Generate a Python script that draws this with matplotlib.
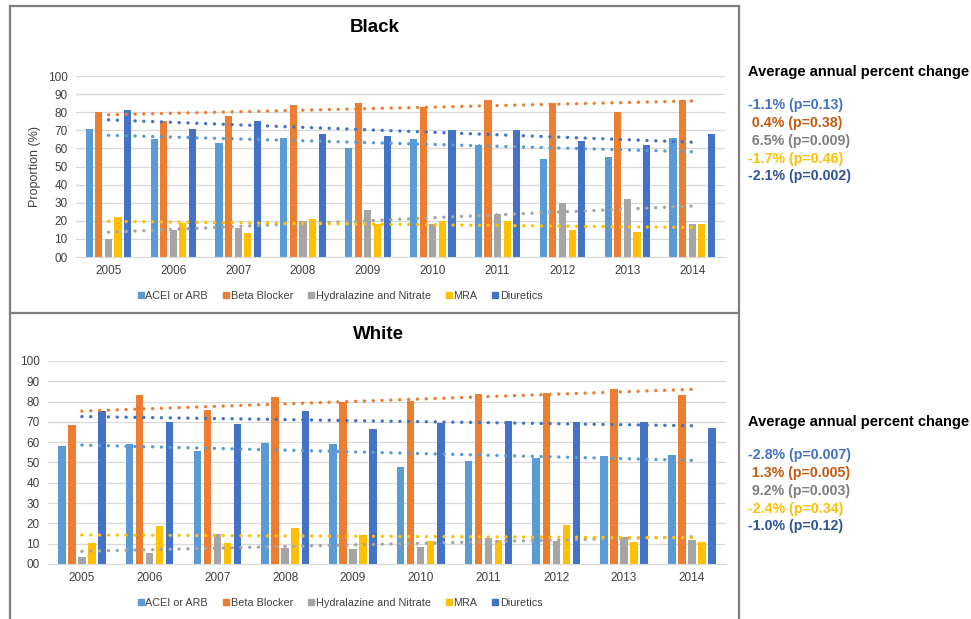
import numpy as np
import matplotlib
matplotlib.use('Agg')
import matplotlib.pyplot as plt
from matplotlib.lines import Line2D

plt.rcParams['font.family'] = ['Liberation Sans', 'DejaVu Sans']

years = ['2005', '2006', '2007', '2008', '2009', '2010', '2011', '2012', '2013', '2014']
drugs = ['ACEI or ARB', 'Beta Blocker', 'Hydralazine and Nitrate', 'MRA', 'Diuretics']
colors = ['#5B9BD5', '#ED7D31', '#A5A5A5', '#FFC000', '#4472C4']

# proportion (%) of patients on each drug class, by year
black_acei = [71, 65, 63, 66, 60, 65, 62, 54, 55, 66]
black_beta = [80, 75, 78, 84, 85, 83, 87, 85, 80, 87]
black_hydra = [10, 15, 16, 20, 26, 18, 24, 30, 32, 18]
black_mra = [22, 19, 13, 21, 18, 20, 20, 15, 14, 18]
black_diur = [81, 71, 75, 68, 67, 70, 70, 64, 62, 68]

white_acei = [58, 59, 55.5, 59.5, 59, 48, 50.5, 52, 53, 53.5]
white_beta = [68.5, 83, 76, 82, 80, 80.5, 83.5, 84, 86, 83]
white_hydra = [3.5, 5.5, 15, 8, 7.5, 8.5, 13, 11.5, 13.5, 12]
white_mra = [10.5, 18.5, 10.5, 17.5, 14.5, 11.5, 12, 19, 11, 11]
white_diur = [75.5, 70, 69, 75.5, 66.5, 69.5, 70.5, 70, 70, 67]

black_apc = ['-1.1% (p=0.13)', ' 0.4% (p=0.38)', ' 6.5% (p=0.009)', '-1.7% (p=0.46)', '-2.1% (p=0.002)']
white_apc = ['-2.8% (p=0.007)', ' 1.3% (p=0.005)', ' 9.2% (p=0.003)', '-2.4% (p=0.34)', '-1.0% (p=0.12)']
apc_colors = ['#4472C4', '#C55A11', '#7F7F7F', '#FFC000', '#2F5597']

fig = plt.figure(figsize=(9.71, 6.19), dpi=100)


def draw_panel(ax, series, ylabel=None):
    x = np.arange(len(years))
    pitch = 0.148
    for i, (vals, c) in enumerate(zip(series, colors)):
        ax.bar(x + (i - 2) * pitch, vals, width=0.11, color=c, zorder=2)
    # linear trend lines for each drug class
    for i, (vals, c) in enumerate(zip(series, colors)):
        k, b = np.polyfit(x, vals, 1)
        ax.plot(x, k * x + b, color=c, lw=2.4, linestyle=(0, (0.05, 2.6)),
                dash_capstyle='round', zorder=3)
    ax.set_xlim(-0.5, len(years) - 0.5)
    ax.set_ylim(0, 100)
    ax.set_yticks(range(0, 101, 10))
    ax.set_yticklabels(['%02d' % v for v in range(0, 101, 10)])
    ax.set_xticks(x)
    ax.set_xticklabels(years)
    ax.grid(axis='y', color='#D9D9D9', lw=0.9, zorder=0)
    ax.set_axisbelow(True)
    for s in ['top', 'right', 'left']:
        ax.spines[s].set_visible(False)
    ax.spines['bottom'].set_color('#D9D9D9')
    ax.tick_params(length=0, labelsize=8.5, colors='#404040', pad=6)
    if ylabel:
        ax.set_ylabel(ylabel, fontsize=9, color='#404040', labelpad=5)


ax1 = fig.add_axes([0.0783, 0.5848, 0.668, 0.2924])
draw_panel(ax1, [black_acei, black_beta, black_hydra, black_mra, black_diur], 'Proportion (%)')
ax2 = fig.add_axes([0.0494, 0.0889, 0.698, 0.328])
draw_panel(ax2, [white_acei, white_beta, white_hydra, white_mra, white_diur])

fig.text(0.386, 0.955, 'Black', ha='center', va='center', fontsize=13.5, fontweight='bold')
fig.text(0.390, 0.459, 'White', ha='center', va='center', fontsize=13.5, fontweight='bold')

handles = [Line2D([], [], marker='s', color=c, linestyle='none', markersize=4.5) for c in colors]
for ypos in [0.522, 0.026]:
    fig.legend(handles, drugs, loc='center', bbox_to_anchor=(0.350, ypos), ncol=5,
               frameon=False, fontsize=7.8, handletextpad=0.1, handlelength=0.7,
               columnspacing=1.3, labelcolor='#404040')

# panel frames
fc = '#7F7F7F'
x0, x1 = 10 / 971, 739 / 971
ytop, ymid = 1 - 6 / 619, 1 - 313 / 619
for xs, ys in [([x0, x1], [ytop, ytop]), ([x0, x0], [ytop, -0.01]), ([x1, x1], [ytop, -0.01]),
               ([x0, x1], [ymid, ymid])]:
    fig.add_artist(Line2D(xs, ys, color=fc, lw=1.6, transform=fig.transFigure))

# average annual percent change annotations
for head_y, labels in [(71.7, black_apc), (421.7, white_apc)]:
    fig.text(748 / 971, 1 - head_y / 619, 'Average annual percent change', fontsize=10.5,
             fontweight='bold', va='center', ha='left')
    for j, (t, c) in enumerate(zip(labels, apc_colors)):
        fig.text(748 / 971, 1 - (head_y + 33.5 + 17.8 * j) / 619, t, fontsize=10.2,
                 color=c, fontweight='bold', va='center', ha='left')

fig.savefig('out.png', dpi=100)
